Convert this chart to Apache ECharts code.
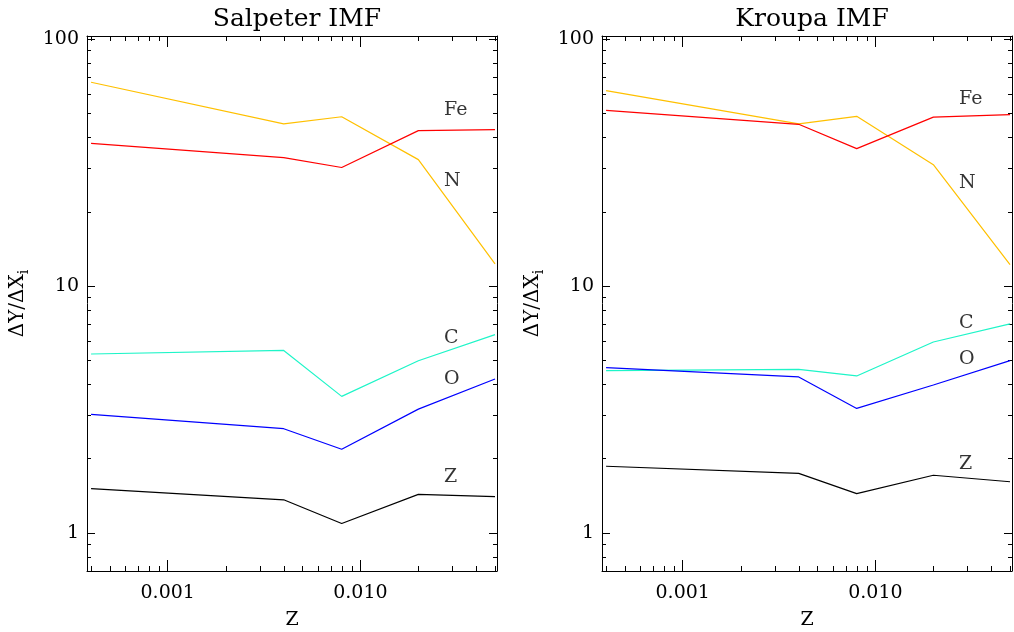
<!DOCTYPE html>
<html><head><meta charset="utf-8">
<script src="https://cdn.jsdelivr.net/npm/echarts@6/dist/echarts.min.js"></script>
<style>html,body{margin:0;padding:0;background:#fff}#c{width:1014px;height:632px}</style>
</head><body><div id="c"></div>
<script>
// ---- data ----
const zValues = [0.0004, 0.004, 0.008, 0.02, 0.05];
const panelTitles = ['Salpeter IMF', 'Kroupa IMF'];
const elementNames = ['N', 'Fe', 'C', 'O', 'Z'];
const elementColors = ['#ffc000', '#ff0000', '#1ef5c8', '#0000ff', '#000000'];

const salpeterN  = [66.9, 45.4, 48.5, 32.5, 12.3];
const salpeterFe = [37.8, 33.1, 30.2, 42.6, 43.0];
const salpeterC  = [5.30, 5.48, 3.57, 4.98, 6.35];
const salpeterO  = [3.02, 2.64, 2.18, 3.17, 4.20];
const salpeterZ  = [1.51, 1.36, 1.09, 1.43, 1.40];

const kroupaN  = [61.9, 45.4, 48.7, 31.0, 12.2];
const kroupaFe = [51.5, 45.2, 36.0, 48.3, 49.5];
const kroupaC  = [4.54, 4.59, 4.32, 5.93, 7.02];
const kroupaO  = [4.67, 4.28, 3.19, 3.97, 4.98];
const kroupaZ  = [1.86, 1.74, 1.44, 1.71, 1.61];

// label anchor (Z coordinate) and heights, per panel, order as elementNames
const labelZ = 0.0272;
const salpeterLabelY = [26.7, 51.4, 6.15, 4.21, 1.68];
const kroupaLabelY   = [26.0, 57.4, 7.08, 5.06, 1.90];

// axis ticks
const xMinorTicks = [0.0004, 0.0005, 0.0006, 0.0007, 0.0008, 0.0009,
                     0.002, 0.003, 0.004, 0.005, 0.006, 0.007, 0.008, 0.009,
                     0.02, 0.03, 0.04, 0.05];
const yMinorTicks = [0.8, 0.9, 2, 3, 4, 5, 6, 7, 8, 9, 20, 30, 40, 50, 60, 70, 80, 90];
const xRange = [0.000381, 0.0512];
const yRange = [0.70, 103];

const panels = [
  {title: panelTitles[0], values: [salpeterN, salpeterFe, salpeterC, salpeterO, salpeterZ], labelY: salpeterLabelY},
  {title: panelTitles[1], values: [kroupaN, kroupaFe, kroupaC, kroupaO, kroupaZ], labelY: kroupaLabelY}
];

// ---- chart ----
const FONT = 'DejaVu Serif';
const gridLefts = [87, 602];
const GW = 410, GT = 36, GH = 535;

function isPow10(v) {
  const l = Math.log10(v);
  return Math.abs(l - Math.round(l)) < 1e-6;
}

function xMinorRender(params, api) {
  const cs = params.coordSys;
  const p = api.coord([api.value(0), api.value(1)]);
  const x = Math.round(p[0]) + 0.5;
  const b = cs.y + cs.height, t = cs.y;
  return {type: 'group', silent: true, children: [
    {type: 'line', shape: {x1: x, y1: b, x2: x, y2: b - 5}, style: {stroke: '#000', lineWidth: 1}},
    {type: 'line', shape: {x1: x, y1: t, x2: x, y2: t + 5}, style: {stroke: '#000', lineWidth: 1}}
  ]};
}
function yMinorRender(params, api) {
  const cs = params.coordSys;
  const p = api.coord([api.value(0), api.value(1)]);
  const y = Math.round(p[1]) + 0.5;
  const l = cs.x, r = cs.x + cs.width;
  return {type: 'group', silent: true, children: [
    {type: 'line', shape: {x1: l, y1: y, x2: l + 4, y2: y}, style: {stroke: '#000', lineWidth: 1}},
    {type: 'line', shape: {x1: r, y1: y, x2: r - 4, y2: y}, style: {stroke: '#000', lineWidth: 1}}
  ]};
}

const grids = [], xAxes = [], yAxes = [], series = [], titles = [];
panels.forEach((pn, i) => {
  grids.push({left: gridLefts[i], top: GT, width: GW, height: GH, show: false,
    containLabel: false, outerBoundsMode: 'none'});
  titles.push({text: pn.title, left: gridLefts[i] + GW / 2, top: 2, textAlign: 'center',
    textStyle: {fontFamily: FONT, fontSize: 25, fontWeight: 'normal', color: '#000'}});
  const axisLine = {show: true, onZero: false, lineStyle: {color: '#000', width: 1}};
  // bottom x
  xAxes.push({type: 'log', gridIndex: i, position: 'bottom', min: xRange[0], max: xRange[1],
    axisLine, axisTick: {inside: true, length: 11, lineStyle: {color: '#000'}},
    axisLabel: {color: '#000', fontFamily: FONT, fontSize: 19, margin: 13,
      formatter: v => isPow10(v) ? v.toFixed(3) : ''},
    splitLine: {show: false},
    name: 'Z', nameLocation: 'middle', nameGap: 40,
    nameTextStyle: {fontFamily: FONT, fontSize: 19, color: '#000'}});
  // top x (mirror)
  xAxes.push({type: 'log', gridIndex: i, position: 'top', min: xRange[0], max: xRange[1],
    axisLine, axisTick: {inside: true, length: 11, lineStyle: {color: '#000'}},
    axisLabel: {show: false}, splitLine: {show: false}});
  // left y
  yAxes.push({type: 'log', gridIndex: i, position: 'left', min: yRange[0], max: yRange[1],
    axisLine, axisTick: {inside: true, length: 8, lineStyle: {color: '#000'}},
    axisLabel: {color: '#000', fontFamily: FONT, fontSize: 19, margin: 8,
      formatter: v => isPow10(v) ? String(Math.round(v)) : ''},
    splitLine: {show: false},
    name: '{m|ΔY/ΔX}{s|i}', nameLocation: 'middle', nameGap: 56, nameRotate: 90,
    nameTextStyle: {rich: {
      m: {fontFamily: FONT, fontSize: 20, color: '#000', lineHeight: 26},
      s: {fontFamily: FONT, fontSize: 14, color: '#000', lineHeight: 26, verticalAlign: 'bottom'}
    }}});
  // right y (mirror)
  yAxes.push({type: 'log', gridIndex: i, position: 'right', min: yRange[0], max: yRange[1],
    axisLine, axisTick: {inside: true, length: 8, lineStyle: {color: '#000'}},
    axisLabel: {show: false}, splitLine: {show: false}});

  const xi = i * 2, yi = i * 2;
  pn.values.forEach((vals, k) => {
    series.push({type: 'line', xAxisIndex: xi, yAxisIndex: yi, name: elementNames[k],
      data: zValues.map((z, j) => [z, vals[j]]),
      showSymbol: false, symbol: 'none', silent: true, animation: false,
      lineStyle: {color: elementColors[k], width: 1.2}, itemStyle: {color: elementColors[k]}});
  });
  series.push({type: 'scatter', xAxisIndex: xi, yAxisIndex: yi, symbolSize: 0, silent: true, animation: false,
    data: elementNames.map((n, k) => ({name: n, value: [labelZ, pn.labelY[k]]})),
    label: {show: true, position: 'right', distance: 0, formatter: p => p.name,
      fontFamily: FONT, fontSize: 19, color: '#000'}});
  series.push({type: 'custom', xAxisIndex: xi, yAxisIndex: yi, silent: true, animation: false, clip: false,
    renderItem: xMinorRender, data: xMinorTicks.map(v => [v, 1])});
  series.push({type: 'custom', xAxisIndex: xi, yAxisIndex: yi, silent: true, animation: false, clip: false,
    renderItem: yMinorRender, data: yMinorTicks.map(v => [0.001, v])});
});

const chart = echarts.init(document.getElementById('c'), null, {renderer: 'canvas'});
chart.setOption({
  backgroundColor: '#fff',
  animation: false,
  title: titles,
  grid: grids,
  xAxis: xAxes,
  yAxis: yAxes,
  series: series
});
</script></body></html>
